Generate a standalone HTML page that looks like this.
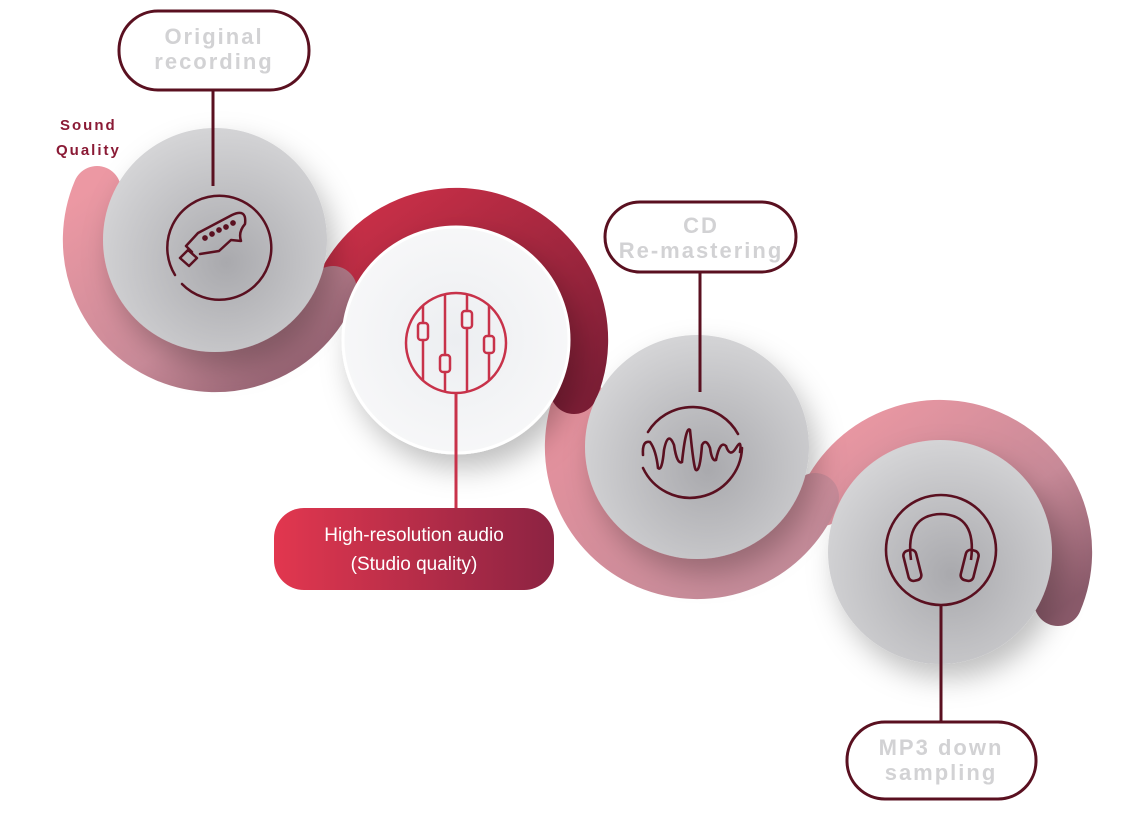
<!DOCTYPE html>
<html><head><meta charset="utf-8"><style>
html,body{margin:0;padding:0;background:#fff;}
svg{display:block;}
text{font-family:"Liberation Sans",sans-serif;}
</style></head><body>
<svg width="1140" height="813" viewBox="0 0 1140 813" xmlns="http://www.w3.org/2000/svg">
<defs>
<linearGradient id="pk1" x1="0" y1="0" x2="1" y2="1"><stop offset="0" stop-color="#ec98a3"/><stop offset="0.6" stop-color="#c88a98"/><stop offset="1" stop-color="#8a5a6a"/></linearGradient>
<linearGradient id="pk2" x1="0" y1="0" x2="1" y2="1"><stop offset="0" stop-color="#e8929e"/><stop offset="1" stop-color="#c08a98"/></linearGradient>
<linearGradient id="rd" x1="0" y1="0" x2="1" y2="1"><stop offset="0" stop-color="#cc3048"/><stop offset="1" stop-color="#7e1e36"/></linearGradient>
<linearGradient id="pill" x1="0" y1="0" x2="1" y2="0"><stop offset="0" stop-color="#e2374f"/><stop offset="1" stop-color="#8c2342"/></linearGradient>
<radialGradient id="gr" cx="0.55" cy="0.6" r="0.6"><stop offset="0" stop-color="#a9a9ad"/><stop offset="1" stop-color="#d4d4d6"/></radialGradient>
<radialGradient id="wh" cx="0.5" cy="0.5" r="0.55"><stop offset="0" stop-color="#eceef1"/><stop offset="1" stop-color="#f8f8f9"/></radialGradient>
<filter id="sh" x="-40%" y="-40%" width="180%" height="180%"><feDropShadow dx="8" dy="14" stdDeviation="14" flood-color="#000" flood-opacity="0.25"/></filter>
</defs>

<g fill="none" stroke-width="48" stroke-linecap="round">
<path d="M822,502 A128,128 0 0 1 1058,602" stroke="url(#pk1)"/>
<path d="M579,397 A128,128 0 0 0 815,497" stroke="url(#pk2)"/>
<path d="M338,290 A128,128 0 0 1 574,390" stroke="url(#rd)"/>
<path d="M97,190 A128,128 0 0 0 333,290" stroke="url(#pk1)"/>
</g>

<circle cx="215" cy="240" r="112" fill="url(#gr)" filter="url(#sh)"/>
<circle cx="456" cy="340" r="113" fill="url(#wh)" stroke="#fff" stroke-width="3" filter="url(#sh)"/>
<circle cx="697" cy="447" r="112" fill="url(#gr)" filter="url(#sh)"/>
<circle cx="940" cy="552" r="112" fill="url(#gr)" filter="url(#sh)"/>

<g stroke="#5a1020" stroke-width="3">
<line x1="213" y1="90" x2="213" y2="186"/>
<line x1="700" y1="272" x2="700" y2="392"/>
<line x1="941" y1="606" x2="941" y2="722"/>
</g>
<line x1="456" y1="392" x2="456" y2="508" stroke="#c8324a" stroke-width="3"/>

<g fill="none" stroke="#5a1020" stroke-width="2.5" stroke-linecap="round" stroke-linejoin="round">
<path d="M175,275 A52,52 0 1 1 182,284"/>
<path d="M180,258 L188,250 L197,258 L189,266 Z"/>
<path d="M192,252 L186,246 L198,233 L232,215 Q247,208 245,224 Q238,232 241,241 L231,240 L219,251 L200,254"/>
<circle cx="205" cy="238" r="1.6" fill="#5a1020"/><circle cx="212" cy="234" r="1.6" fill="#5a1020"/><circle cx="219" cy="230" r="1.6" fill="#5a1020"/><circle cx="226" cy="227" r="1.6" fill="#5a1020"/><circle cx="233" cy="223" r="1.6" fill="#5a1020"/>
</g>

<g fill="none" stroke="#c8324a" stroke-width="2.5">
<circle cx="456" cy="343" r="50"/>
<line x1="423" y1="306" x2="423" y2="380"/><line x1="445" y1="294" x2="445" y2="392"/><line x1="467" y1="294" x2="467" y2="392"/><line x1="489" y1="306" x2="489" y2="380"/>
<rect x="418" y="323" width="10" height="17" rx="3" fill="#f0f1f3"/>
<rect x="440" y="355" width="10" height="17" rx="3" fill="#f0f1f3"/>
<rect x="462" y="311" width="10" height="17" rx="3" fill="#f0f1f3"/>
<rect x="484" y="336" width="10" height="17" rx="3" fill="#f0f1f3"/>
</g>

<g fill="none" stroke="#5a1020" stroke-width="2.6" stroke-linecap="round">
<path d="M648,432 A52,52 0 0 1 738,434"/>
<path d="M643,468 A52,52 0 0 0 742,448"/>
<path d="M643,455 Q642,440 650,442 Q656,450 658,468 Q662,472 664,450 Q668,430 674,445 Q677,465 682,462 Q686,425 690,430 Q694,470 696,470 Q700,472 702,445 Q706,438 710,448 Q712,462 716,460 Q720,440 726,446 Q730,458 736,448 Q742,438 740,452"/>
</g>

<g fill="none" stroke="#5a1020" stroke-width="2.6" stroke-linejoin="round">
<circle cx="941" cy="550" r="55"/>
<path d="M911,560 Q905,515 941,514 Q977,515 971,560"/>
<rect x="906" y="550" width="13" height="31" rx="5" transform="rotate(-14 912 566)"/>
<rect x="963" y="550" width="13" height="31" rx="5" transform="rotate(14 970 566)"/>
</g>

<g fill="#fff" stroke="#5a1020" stroke-width="3">
<rect x="119" y="11" width="190" height="79" rx="39"/>
<rect x="605" y="202" width="191" height="70" rx="35"/>
<rect x="847" y="722" width="189" height="77" rx="38"/>
</g>
<rect x="274" y="508" width="280" height="82" rx="30" fill="url(#pill)"/>

<g fill="#d2d2d4" font-size="22" font-weight="bold" text-anchor="middle" letter-spacing="2">
<text x="214" y="44">Original</text>
<text x="214" y="69">recording</text>
<text x="701" y="233">CD</text>
<text x="701" y="258">Re-mastering</text>
<text x="941" y="755">MP3 down</text>
<text x="941" y="780">sampling</text>
</g>
<g fill="#fff" font-size="19" text-anchor="middle">
<text x="414" y="541">High-resolution audio</text>
<text x="414" y="570">(Studio quality)</text>
</g>
<g fill="#8a1a35" font-size="15" font-weight="bold" letter-spacing="2">
<text x="60" y="130">Sound</text>
<text x="56" y="155">Quality</text>
</g>
</svg>
</body></html>
